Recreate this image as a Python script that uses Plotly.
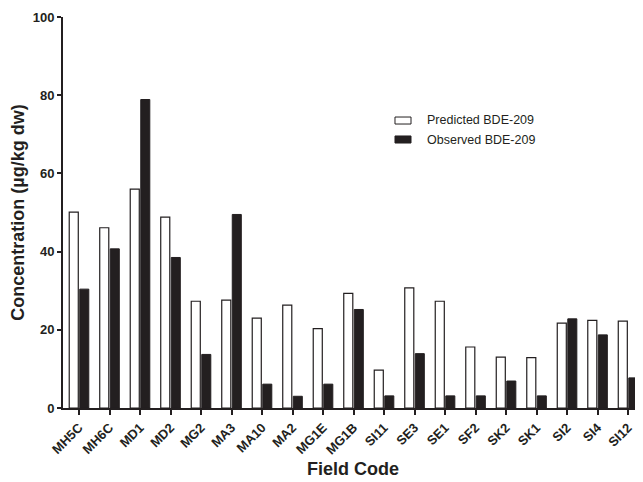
import plotly.graph_objects as go

categories = ["MH5C", "MH6C", "MD1", "MD2", "MG2", "MA3", "MA10", "MA2", "MG1E", "MG1B",
              "SI11", "SE3", "SE1", "SF2", "SK2", "SK1", "SI2", "SI4", "SI12"]
predicted = [50.1, 46.1, 56.0, 48.8, 27.3, 27.6, 23.0, 26.3, 20.3, 29.3,
             9.7, 30.7, 27.3, 15.6, 13.0, 12.9, 21.7, 22.4, 22.2]
observed = [30.4, 40.7, 78.9, 38.5, 13.7, 49.5, 6.1, 3.0, 6.1, 25.2,
            3.1, 13.9, 3.1, 3.1, 6.9, 3.1, 22.8, 18.7, 7.7]
y_ticks = [0, 20, 40, 60, 80, 100]
series_names = ["Predicted BDE-209", "Observed BDE-209"]

FONT = "Arial, Liberation Sans, Helvetica, sans-serif"
DARK = "#231f20"

fig = go.Figure()
fig.add_trace(go.Bar(
    x=list(range(len(categories))), y=predicted, name=series_names[0], showlegend=False,
    marker=dict(color="white", line=dict(color=DARK, width=1.2)),
))
fig.add_trace(go.Bar(
    x=list(range(len(categories))), y=observed, name=series_names[1], showlegend=False,
    marker=dict(color=DARK, line=dict(color=DARK, width=1)),
))

# custom legend (paper coordinates)
legend_rows = [(0.7442, 0.7263, 0.7353, "white"), (0.6957, 0.6777, 0.6867, DARK)]
for (y0, y1, yt, fill), name in zip(legend_rows, series_names):
    fig.add_shape(type="rect", xref="paper", yref="paper",
                  x0=0.5724, x1=0.60, y0=y1, y1=y0,
                  fillcolor=fill, line=dict(color=DARK, width=1))
    fig.add_annotation(xref="paper", yref="paper", x=0.6241, y=yt,
                       xanchor="left", yanchor="middle", showarrow=False,
                       text=name, font=dict(size=12.5, family=FONT, color=DARK))

# page body has an 8px margin: figure is 635x474 placed at (8, 8)
fig.update_layout(
    width=635, height=474,
    margin=dict(l=55, r=0, t=9, b=74, autoexpand=False),
    plot_bgcolor="white", paper_bgcolor="white",
    barmode="group", bargap=0.31, bargroupgap=0.14,
    font=dict(family=FONT, color=DARK),
    showlegend=False,
)
fig.update_xaxes(
    range=[-0.525, 18.49],
    tickmode="array", tickvals=list(range(len(categories))), ticktext=categories,
    tickangle=-45,
    tickfont=dict(size=13, family=FONT, color=DARK, weight="bold"),
    showline=True, linecolor=DARK, linewidth=2,
    ticks="outside", ticklen=5, tickwidth=1.5, tickcolor=DARK,
    showgrid=False, zeroline=False, automargin=False,
    title=dict(text="<b>Field Code</b>", font=dict(size=18, family=FONT, color=DARK), standoff=6),
)
fig.update_yaxes(
    range=[0, 100], tickvals=y_ticks,
    tickfont=dict(size=13, family=FONT, color=DARK, weight="bold"),
    showline=True, linecolor=DARK, linewidth=2,
    ticks="outside", ticklen=4, tickwidth=1.5, tickcolor=DARK,
    showgrid=False, zeroline=False, automargin=False,
    title=dict(text="<b>Concentration (µg/kg dw)</b>", font=dict(size=18, family=FONT, color=DARK), standoff=4),
)

fig.write_html("out.html")
